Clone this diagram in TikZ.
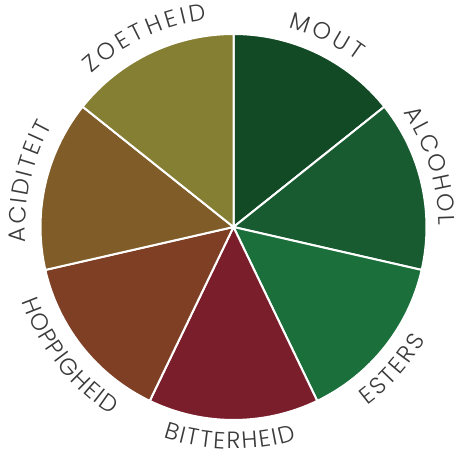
\documentclass[tikz,border=0pt]{standalone}
\usepackage{fontspec}
\newfontfamily\lblfont{Poppins Light}
\usetikzlibrary{decorations.text}
\definecolor{cMout}{HTML}{114A24}
\definecolor{cAlcohol}{HTML}{195B30}
\definecolor{cEsters}{HTML}{1B6F3A}
\definecolor{cBitter}{HTML}{7B1E2B}
\definecolor{cHop}{HTML}{7E3F24}
\definecolor{cAcid}{HTML}{805D28}
\definecolor{cZoet}{HTML}{857F33}
\definecolor{lblgray}{HTML}{3A3A3A}
\newcommand\lblfmt{\lblfont\fontsize{23.5}{23.5}\selectfont}
\begin{document}
\begin{tikzpicture}[x=1pt,y=1pt,
  slice/.style={draw=white,line width=2pt,line join=round},
  lbl/.style={decorate,decoration={text along path,text align=fit to path,text color=lblgray,text={|\lblfmt|#1}}}]
\useasboundingbox (0,0) rectangle (454,455);
\coordinate (O) at (233.5,228);
\def\R{193}
\foreach \a/\b/\c in {90/38.571/cMout, 38.571/-12.857/cAlcohol, -12.857/-64.286/cEsters, -64.286/-115.714/cBitter, -115.714/-167.143/cHop, 192.857/141.429/cAcid, 141.429/90/cZoet}{
  \filldraw[slice,fill=\c] (O) -- ([shift={(\a:\R)}]O) arc[start angle=\a,end angle=\b,radius=\R] -- cycle;
}
% upper labels (clockwise, letters outward)
\path[lbl=MOUT] ([shift={(74.7:207)}]O) arc[start angle=74.7,end angle=53.3,radius=207];
\path[lbl=ALCOHOL] ([shift={(34:205)}]O) arc[start angle=34,end angle=0.5,radius=205];
\path[lbl=ZOETHEID] ([shift={(132.8:209)}]O) arc[start angle=132.8,end angle=97.2,radius=209];
\path[lbl=ACIDITEIT] ([shift={(184.3:208)}]O) arc[start angle=184.3,end angle=150.9,radius=208];
% lower labels (counter-clockwise, letters inward)
\path[lbl=ESTERS] ([shift={(-53.2:223)}]O) arc[start angle=-53.2,end angle=-30.6,radius=223];
\path[lbl=BITTERHEID] ([shift={(-108.5:222)}]O) arc[start angle=-108.5,end angle=-73.5,radius=222];
\path[lbl=HOPPIGHEID] ([shift={(-160.7:224)}]O) arc[start angle=-160.7,end angle=-123.1,radius=224];
\end{tikzpicture}
\end{document}
